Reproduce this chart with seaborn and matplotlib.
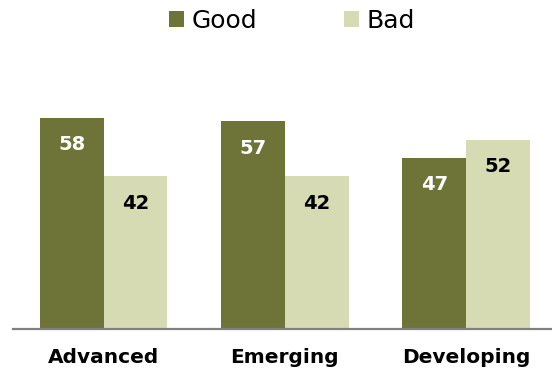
import matplotlib
matplotlib.use("Agg")
import matplotlib.pyplot as plt
import seaborn as sns
import pandas as pd
from matplotlib.patches import Patch

categories = ["Advanced", "Emerging", "Developing"]
good = [58, 57, 47]
bad = [42, 42, 52]
series = ["Good", "Bad"]
colors = {"Good": "#6e7438", "Bad": "#d6dbb3"}
label_colors = {"Good": "white", "Bad": "black"}

df = pd.DataFrame({
    "category": categories * 2,
    "series": ["Good"] * len(categories) + ["Bad"] * len(categories),
    "value": good + bad,
})

sns.set_theme(style="white")
plt.rcParams["font.family"] = ["DejaVu Sans"]

fig = plt.figure(figsize=(5.52, 3.70), dpi=100)
ax = fig.add_axes([12.9 / 552, 41 / 370, 544 / 552, 255 / 370])

sns.barplot(data=df, x="category", y="value", hue="series", order=categories,
            hue_order=series, palette=colors, width=0.705, gap=0, dodge=True,
            ax=ax, legend=False, saturation=1, linewidth=0)

ax.set_xlim(-0.5, 2.5)
ax.set_ylim(0, 70)

# value labels
for container, s in zip(ax.containers, series):
    for bar in container:
        h = bar.get_height()
        ax.annotate(f"{h:.0f}", xy=(bar.get_x() + bar.get_width() / 2, h),
                    xytext=(0, -19.5), textcoords="offset points",
                    ha="center", va="center", fontsize=14, fontweight="bold",
                    color=label_colors[s])

for sp in ["top", "left", "right"]:
    ax.spines[sp].set_visible(False)
ax.spines["bottom"].set_color("#808080")
ax.spines["bottom"].set_linewidth(1.6)
ax.set_yticks([])
ax.set_xlabel("")
ax.set_ylabel("")
ax.tick_params(axis="x", length=0, pad=14, labelsize=14.5, labelcolor="black")
for t in ax.get_xticklabels():
    t.set_fontweight("bold")

handles = [Patch(facecolor=colors[s], edgecolor="none", label=s) for s in series]
fig.legend(handles=handles, loc="center", bbox_to_anchor=(292 / 552, 1 - 20.5 / 370),
           ncol=2, frameon=False, fontsize=18, handlelength=0.6, handleheight=0.6,
           handletextpad=0.3, columnspacing=3.5, borderpad=0, borderaxespad=0,
           labelcolor="black")

fig.savefig("out.png", dpi=100)
